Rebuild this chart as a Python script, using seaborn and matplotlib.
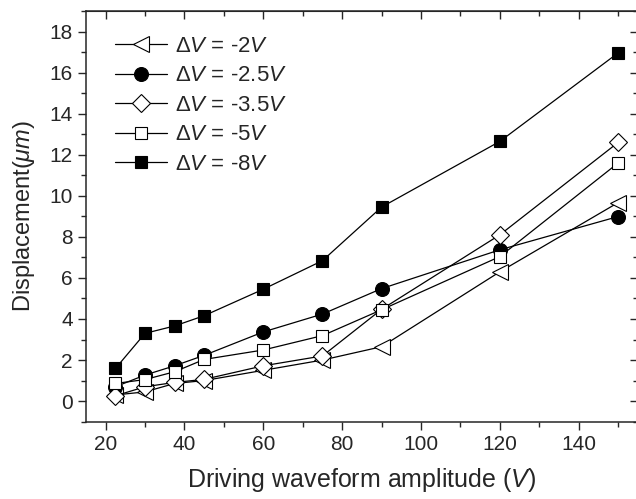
import matplotlib
matplotlib.use('Agg')
import matplotlib.pyplot as plt
import seaborn as sns
from matplotlib.ticker import MultipleLocator

# amplitude of the driving waveform (V)
amplitude = [22.5, 30, 37.5, 45, 60, 75, 90, 120, 150]

# displacement (um) for each delta V
dv_2 = [0.3, 0.45, 0.86, 1.0, 1.5, 2.0, 2.65, 6.3, 9.67]
dv_2_5 = [0.7, 1.27, 1.72, 2.23, 3.37, 4.24, 5.48, 7.37, 8.99]
dv_3_5 = [0.26, 0.7, 0.91, 1.06, 1.72, 2.2, 4.47, 8.1, 12.6]
dv_5 = [0.86, 1.05, 1.43, 2.03, 2.49, 3.19, 4.45, 7.04, 11.6]
dv_8 = [1.59, 3.3, 3.66, 4.16, 5.45, 6.84, 9.45, 12.65, 16.96]

labels = [r'$\mathit{\Delta V}$ = -2$\mathit{V}$',
          r'$\mathit{\Delta V}$ = -2.5$\mathit{V}$',
          r'$\mathit{\Delta V}$ = -3.5$\mathit{V}$',
          r'$\mathit{\Delta V}$ = -5$\mathit{V}$',
          r'$\mathit{\Delta V}$ = -8$\mathit{V}$']

sns.set_style('ticks')
plt.rcParams['font.family'] = ['Liberation Sans', 'DejaVu Sans']
plt.rcParams['mathtext.fontset'] = 'custom'
plt.rcParams['mathtext.rm'] = 'Liberation Sans'
plt.rcParams['mathtext.it'] = 'Liberation Sans:italic'

fig = plt.figure(figsize=(6.36, 4.99), dpi=100)
ax = fig.add_axes([0.135, 0.155, 0.868, 0.823])

series = [dv_2, dv_2_5, dv_3_5, dv_5, dv_8]
markers = ['<', 'o', 'D', 's', 's']
fills = ['white', 'black', 'white', 'white', 'black']
sizes = [11, 10, 9, 9, 9]

for y, lab, m, fc, ms in zip(series, labels, markers, fills, sizes):
    sns.lineplot(x=amplitude, y=y, ax=ax, color='black', lw=0.9,
                 marker=m, markersize=ms, markerfacecolor=fc,
                 markeredgecolor='black', markeredgewidth=0.8, label=lab)

ax.set_xlim(15, 155)
ax.set_ylim(-1, 19)
ax.xaxis.set_major_locator(MultipleLocator(20))
ax.xaxis.set_minor_locator(MultipleLocator(10))
ax.yaxis.set_major_locator(MultipleLocator(2))
ax.yaxis.set_minor_locator(MultipleLocator(1))
ax.tick_params(which='both', direction='out', top=False, right=False, labelsize=15, width=1)
ax.tick_params(which='major', length=6)
ax.tick_params(which='minor', length=3.5)
for sp in ax.spines.values():
    sp.set_linewidth(1.1)

# mirrored inward ticks on top and right
sec_x = ax.secondary_xaxis('top')
sec_x.xaxis.set_major_locator(MultipleLocator(20))
sec_x.xaxis.set_minor_locator(MultipleLocator(10))
sec_x.tick_params(which='both', direction='in', labeltop=False, width=1)
sec_x.tick_params(which='major', length=6)
sec_x.tick_params(which='minor', length=3.5)
sec_y = ax.secondary_yaxis('right')
sec_y.yaxis.set_major_locator(MultipleLocator(2))
sec_y.yaxis.set_minor_locator(MultipleLocator(1))
sec_y.tick_params(which='both', direction='in', labelright=False, width=1)
sec_y.tick_params(which='major', length=6)
sec_y.tick_params(which='minor', length=3.5)

ax.set_xlabel(r'Driving waveform amplitude ($\mathit{V}$)', fontsize=18, labelpad=9)
ax.set_ylabel(r'Displacement($\mathit{\mu m}$)', fontsize=17, labelpad=9)

ax.legend(loc='upper left', bbox_to_anchor=(0.0525, 0.939), frameon=False,
          fontsize=16, handlelength=2.35, handletextpad=0.36, labelspacing=0.38,
          borderaxespad=0, borderpad=0)

plt.savefig('out.png', dpi=100)
